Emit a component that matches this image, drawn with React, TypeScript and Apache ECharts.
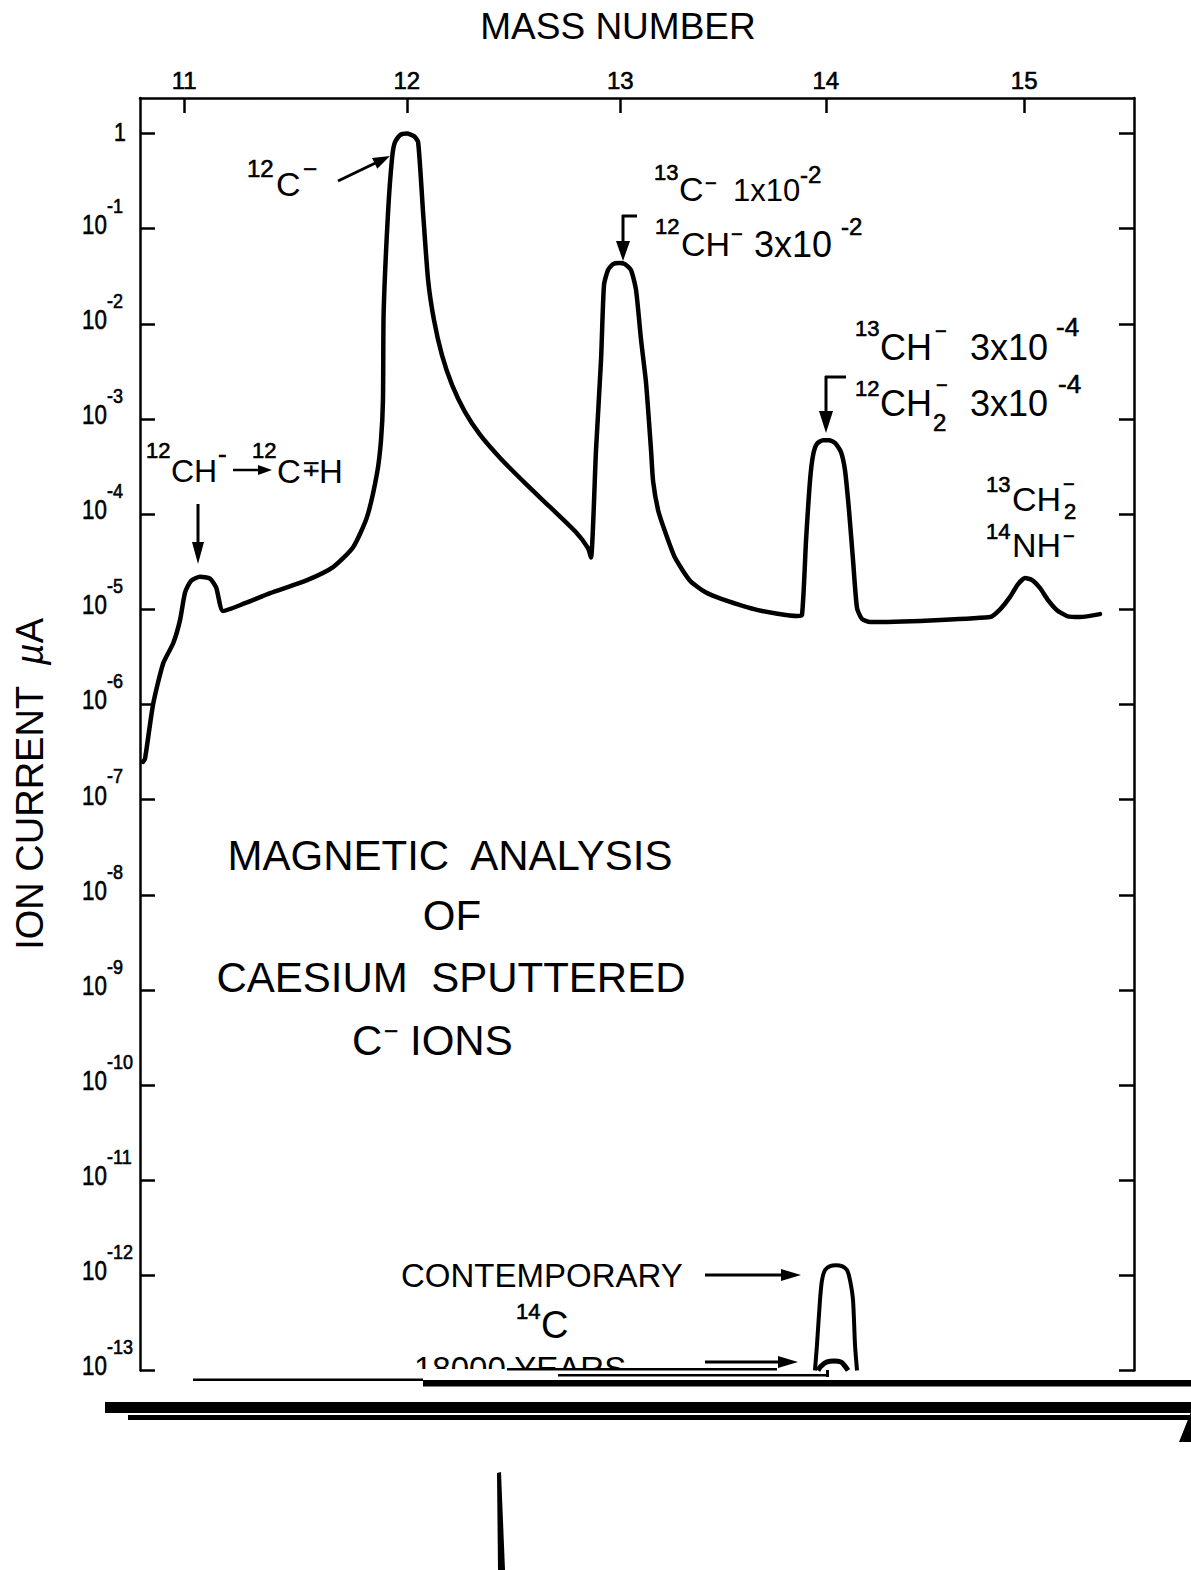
import React, { useEffect, useRef } from 'react';
import * as echarts from 'echarts';

const FONT = '"Liberation Sans", Arial, Helvetica, sans-serif';
const INK = '#000';

// Axis definitions
const massTicks = [11, 12, 13, 14, 15];
const currentTicks = [1e-13, 1e-12, 1e-11, 1e-10, 1e-9, 1e-8, 1e-7, 1e-6, 1e-5, 1e-4, 1e-3, 1e-2, 1e-1, 1];
const massRange = [10.807, 15.569];
const currentRange = [1e-13, 2.366];

// Magnetic scan of the sputtered negative-ion beam (ion current, µA)
const scanMass = [
  10.820, 10.829, 10.864, 10.908, 10.952, 10.982, 11.004, 11.031, 11.070, 11.114,
  11.141, 11.172, 11.269, 11.381, 11.547, 11.664, 11.755, 11.818, 11.864, 11.882,
  11.891, 11.894, 11.914, 11.933, 11.946, 11.969, 12.001, 12.033, 12.052, 12.075,
  12.098, 12.125, 12.162, 12.209, 12.269, 12.339, 12.432, 12.549, 12.666, 12.785,
  12.846, 12.860, 12.884, 12.908, 12.922, 12.941, 12.965, 12.994, 13.022, 13.051,
  13.075, 13.099, 13.123, 13.147, 13.157, 13.181, 13.214, 13.262, 13.335, 13.408,
  13.490, 13.666, 13.858, 13.882, 13.902, 13.922, 13.937, 13.956, 13.986, 14.016,
  14.046, 14.075, 14.095, 14.115, 14.135, 14.155, 14.180, 14.220, 14.826, 14.877,
  14.928, 14.969, 15.005, 15.041, 15.082, 15.123, 15.169, 15.221, 15.288, 15.392,
];
const scanCurrent = [
  2.5e-7, 2.7e-7, 1.0e-6, 2.7e-6, 4.4e-6, 7.7e-6, 1.5e-5, 2.0e-5, 2.2e-5, 2.1e-5,
  1.7e-5, 9.6e-6, 1.16e-5, 1.48e-5, 2.03e-5, 2.78e-5, 4.5e-5, 9.3e-5, 2.7e-4, 6.0e-4,
  1.6e-3, 1.3e-2, 0.146, 0.566, 0.814, 0.964, 1.0, 0.941, 0.814, 0.146,
  0.0289, 0.011, 4.7e-3, 2.27e-3, 1.18e-3, 6.8e-4, 3.9e-4, 2.12e-4, 1.19e-4, 6.6e-5,
  4.4e-5, 3.5e-5, 4.7e-4, 4.2e-3, 0.0256, 0.0368, 0.0425, 0.0436, 0.0425, 0.0368,
  0.0227, 6.8e-3, 2.4e-3, 4.7e-4, 2.2e-4, 1.1e-4, 6.6e-5, 3.5e-5, 2.0e-5, 1.52e-5,
  1.28e-5, 9.8e-6, 8.5e-6, 8.7e-6, 5.3e-5, 2.3e-4, 4.2e-4, 5.5e-4, 6.0e-4, 6.0e-4,
  5.6e-4, 4.5e-4, 2.9e-4, 1.1e-4, 3.3e-5, 1.03e-5, 7.9e-6, 7.35e-6, 8.3e-6, 1.0e-5,
  1.35e-5, 1.84e-5, 2.13e-5, 2.03e-5, 1.67e-5, 1.25e-5, 9.8e-6, 8.5e-6, 8.3e-6, 8.9e-6,
];

// 14C peak from a contemporary sample
const modernMass = [13.946, 13.956, 13.971, 13.981, 13.996, 14.021, 14.051, 14.080, 14.105, 14.120, 14.135, 14.145, 14.155];
const modernCurrent = [1.0e-13, 1.85e-13, 5.5e-13, 8.9e-13, 1.14e-12, 1.25e-12, 1.28e-12, 1.25e-12, 1.14e-12, 8.9e-13, 5.5e-13, 1.85e-13, 1.0e-13];

// 14C peak from an 18000 year old sample
const oldMass = [13.961, 13.976, 14.006, 14.041, 14.075, 14.095, 14.110];
const oldCurrent = [1.0e-13, 1.11e-13, 1.23e-13, 1.26e-13, 1.23e-13, 1.11e-13, 1.0e-13];

const toPoints = (m: number[], c: number[]) => m.map((v, i) => [Math.sqrt(v), c[i]]);

function txt(text: string, x: number, y: number, size: number, align = 'left', sx = 1, style: any = {}) {
  // small lettering gets a hairline outline so its strokes match the heavier pen
  const weight = size <= 28 ? { stroke: INK, lineWidth: 0.6 } : {};
  return {
    type: 'text',
    x,
    y,
    scaleX: sx,
    silent: true,
    style: {
      text,
      fontSize: size,
      fontFamily: FONT,
      fill: INK,
      align,
      textAlign: align,
      verticalAlign: 'middle',
      textVerticalAlign: 'middle',
      ...weight,
      ...style,
    },
  };
}

function arrow(x1: number, y1: number, x2: number, y2: number, head = 16, half = 6, w = 3) {
  const dx = x2 - x1;
  const dy = y2 - y1;
  const len = Math.hypot(dx, dy);
  const ux = dx / len;
  const uy = dy / len;
  const bx = x2 - ux * head;
  const by = y2 - uy * head;
  const px = -uy * half;
  const py = ux * half;
  return [
    { type: 'line', silent: true, shape: { x1, y1, x2: bx + ux * 2, y2: by + uy * 2 }, style: { stroke: INK, lineWidth: w } },
    { type: 'polygon', silent: true, shape: { points: [[x2, y2], [bx + px, by + py], [bx - px, by - py]] }, style: { fill: INK } },
  ];
}

function bar(x: number, y: number, width: number, height: number, fill = INK) {
  return { type: 'rect', silent: true, shape: { x, y, width, height }, style: { fill } };
}

function seg(x1: number, y1: number, x2: number, y2: number, w = 3) {
  return { type: 'line', silent: true, shape: { x1, y1, x2, y2 }, style: { stroke: INK, lineWidth: w } };
}

// Power-of-ten labels beside the left axis, placed through the axis scale
function currentLabels(chart: echarts.ECharts) {
  const g: any[] = [];
  currentTicks.forEach((v) => {
    const y = chart.convertToPixel({ yAxisIndex: 0 }, v) as number;
    const e = Math.round(Math.log10(v));
    if (e === 0) {
      g.push(txt('1', 114, y - 1, 25, 'left', 0.85));
    } else {
      g.push(txt('10', 82, y - 5, 28, 'left', 0.8));
      g.push(txt(String(e), 107, y - 23, 20, 'left', 0.9));
    }
  });
  return g;
}

function annotations() {
  const g: any[] = [];
  // Axis titles
  g.push(txt('MASS NUMBER', 618, 26, 37, 'center'));
  g.push({
    type: 'text',
    x: 30,
    y: 784,
    rotation: Math.PI / 2,
    silent: true,
    style: {
      text: '{a|ION CURRENT  }{m|\u00b5}{a|A}',
      align: 'center',
      textAlign: 'center',
      verticalAlign: 'middle',
      textVerticalAlign: 'middle',
      fill: INK,
      rich: {
        a: { fontSize: 38, fontFamily: FONT, color: INK },
        m: { fontSize: 38, fontFamily: FONT, color: INK, fontStyle: 'italic' },
      },
    },
  });

  // Caption
  g.push(txt('MAGNETIC  ANALYSIS', 450, 855, 42, 'center'));
  g.push(txt('OF', 452, 915, 42, 'center'));
  g.push(txt('CAESIUM  SPUTTERED', 451, 977, 42, 'center'));
  g.push(txt('C', 352, 1040, 42));
  g.push(txt('\u2212', 384, 1030, 24));
  g.push(txt('IONS', 410, 1040, 42));

  // 12C- peak
  g.push(txt('12', 247, 168, 24));
  g.push(txt('C', 276, 184, 34));
  g.push(txt('\u2212', 303, 168, 24));
  g.push(...arrow(338, 181, 390, 156, 17, 6, 3));

  // mass 13 peak
  g.push(txt('13', 654, 172, 22));
  g.push(txt('C', 679, 189, 34));
  g.push(txt('\u2212', 705, 183, 20));
  g.push(txt('1x10', 733, 190, 31));
  g.push(txt('-2', 800, 174, 24));
  g.push(txt('12', 655, 226, 22));
  g.push(txt('CH', 681, 244, 34));
  g.push(txt('\u2212', 731, 234, 20));
  g.push(txt('3x10', 754, 244, 36));
  g.push(txt('-2', 841, 226, 24));
  g.push(seg(637, 216, 622, 216, 3));
  g.push(...arrow(623, 215, 623, 261, 20, 7, 3));

  // mass 14 peak
  g.push(txt('13', 855, 328, 22));
  g.push(txt('CH', 880, 347, 36));
  g.push(txt('\u2212', 935, 331, 20));
  g.push(txt('3x10', 970, 347, 36));
  g.push(txt('-4', 1056, 327, 26));
  g.push(txt('12', 855, 388, 22));
  g.push(txt('CH', 880, 403, 36));
  g.push(txt('2', 933, 422, 24));
  g.push(txt('\u2212', 936, 385, 20));
  g.push(txt('3x10', 970, 403, 36));
  g.push(txt('-4', 1058, 384, 26));
  g.push(seg(846, 377, 825, 377, 3));
  g.push(...arrow(826, 376, 826, 433, 22, 7, 3));

  // mass 11 shoulder
  g.push(txt('12', 146, 450, 22));
  g.push(txt('CH', 171, 471, 32));
  g.push(txt('-', 218, 454, 26));
  g.push(...arrow(233, 470, 272, 470, 14, 5, 2.5));
  g.push(txt('12', 252, 450, 22));
  g.push(txt('C', 277, 471, 33));
  g.push(txt('\u2213', 302, 468, 22));
  g.push(txt('H', 319, 471, 33));
  g.push(...arrow(198, 504, 198, 564, 22, 6, 3));

  // mass 15 peak
  g.push(txt('13', 986, 484, 22));
  g.push(txt('CH', 1012, 499, 34));
  g.push(txt('\u2212', 1063, 484, 20));
  g.push(txt('2', 1064, 511, 22));
  g.push(txt('14', 986, 531, 22));
  g.push(txt('NH', 1012, 545, 34));
  g.push(txt('\u2212', 1063, 536, 20));

  // 14C peaks
  g.push(txt('CONTEMPORARY', 401, 1275, 33));
  g.push(...arrow(705, 1275, 801, 1275, 20, 6, 3));
  g.push(txt('14', 516, 1311, 22));
  g.push(txt('C', 541, 1325, 38));
  g.push(txt('18000 YEARS', 414, 1368, 33));
  g.push(bar(400, 1369, 310, 14, '#fff'));
  g.push(...arrow(705, 1362, 798, 1362, 20, 6, 3));

  // heavy rules along the foot of the sheet
  g.push(bar(193, 1378.5, 230, 2.5));
  g.push(bar(507, 1368, 270, 2.5));
  g.push(bar(558, 1374, 270, 2.5));
  g.push(bar(826, 1370, 3, 7));
  g.push(bar(423, 1380, 768, 6.5));
  g.push(bar(105, 1402, 1086, 11));
  g.push(bar(128, 1415, 1063, 5));
  g.push({ type: 'polygon', silent: true, shape: { points: [[497, 1473], [501, 1472], [505, 1570], [498, 1570]] }, style: { fill: INK } });
  g.push({ type: 'polygon', silent: true, shape: { points: [[1191, 1412], [1191, 1442], [1179, 1442]] }, style: { fill: INK } });
  return g;
}

export default function App() {
  const ref = useRef<HTMLDivElement>(null);
  useEffect(() => {
    document.body.style.margin = '0';
    if (!ref.current) return;
    const chart = echarts.init(ref.current, undefined, { renderer: 'svg' });
    const axisLine = { show: true, onZero: false, lineStyle: { color: INK, width: 2.5 } };
    const tickStyle = { color: INK, width: 2.5 };
    const sqrtTicks = massTicks.map(Math.sqrt);
    const curve = { type: 'line', symbol: 'none', showSymbol: false, silent: true };
    chart.setOption({
      animation: false,
      backgroundColor: '#fff',
      grid: { left: 140, top: 98, right: 57, bottom: 199.5, show: false },
      xAxis: {
        type: 'value',
        position: 'top',
        min: Math.sqrt(massRange[0]),
        max: Math.sqrt(massRange[1]),
        axisLine,
        axisTick: { show: true, inside: true, length: 15, lineStyle: tickStyle, customValues: sqrtTicks },
        axisLabel: {
          show: true,
          customValues: sqrtTicks,
          formatter: (v: number) => String(Math.round(v * v)),
          margin: 6,
          fontSize: 24,
          fontFamily: FONT,
          color: INK,
          textBorderColor: INK,
          textBorderWidth: 0.6,
        },
        splitLine: { show: false },
      },
      yAxis: [0, 1].map((i) => ({
        type: 'log',
        position: i === 0 ? 'left' : 'right',
        min: currentRange[0],
        max: currentRange[1],
        axisLine,
        axisTick: { show: true, inside: true, length: 15, lineStyle: tickStyle, customValues: currentTicks },
        minorTick: { show: false },
        splitLine: { show: false },
        axisLabel: { show: false },
      })),
      series: [
        {
          ...curve,
          name: 'scan',
          data: toPoints(scanMass, scanCurrent),
          smooth: 0.2,
          lineStyle: { color: INK, width: 4.5, cap: 'round', join: 'round' },
        },
        {
          ...curve,
          name: 'contemporary',
          data: toPoints(modernMass, modernCurrent),
          smooth: 0.25,
          lineStyle: { color: INK, width: 4, join: 'round' },
        },
        {
          ...curve,
          name: '18000 years',
          data: toPoints(oldMass, oldCurrent),
          smooth: 0.4,
          lineStyle: { color: INK, width: 5, join: 'round' },
        },
      ],
    });
    chart.setOption({ graphic: { elements: [...currentLabels(chart), ...annotations()] } });
    return () => chart.dispose();
  }, []);
  return <div ref={ref} style={{ width: 1191, height: 1570, background: '#fff' }} />;
}
